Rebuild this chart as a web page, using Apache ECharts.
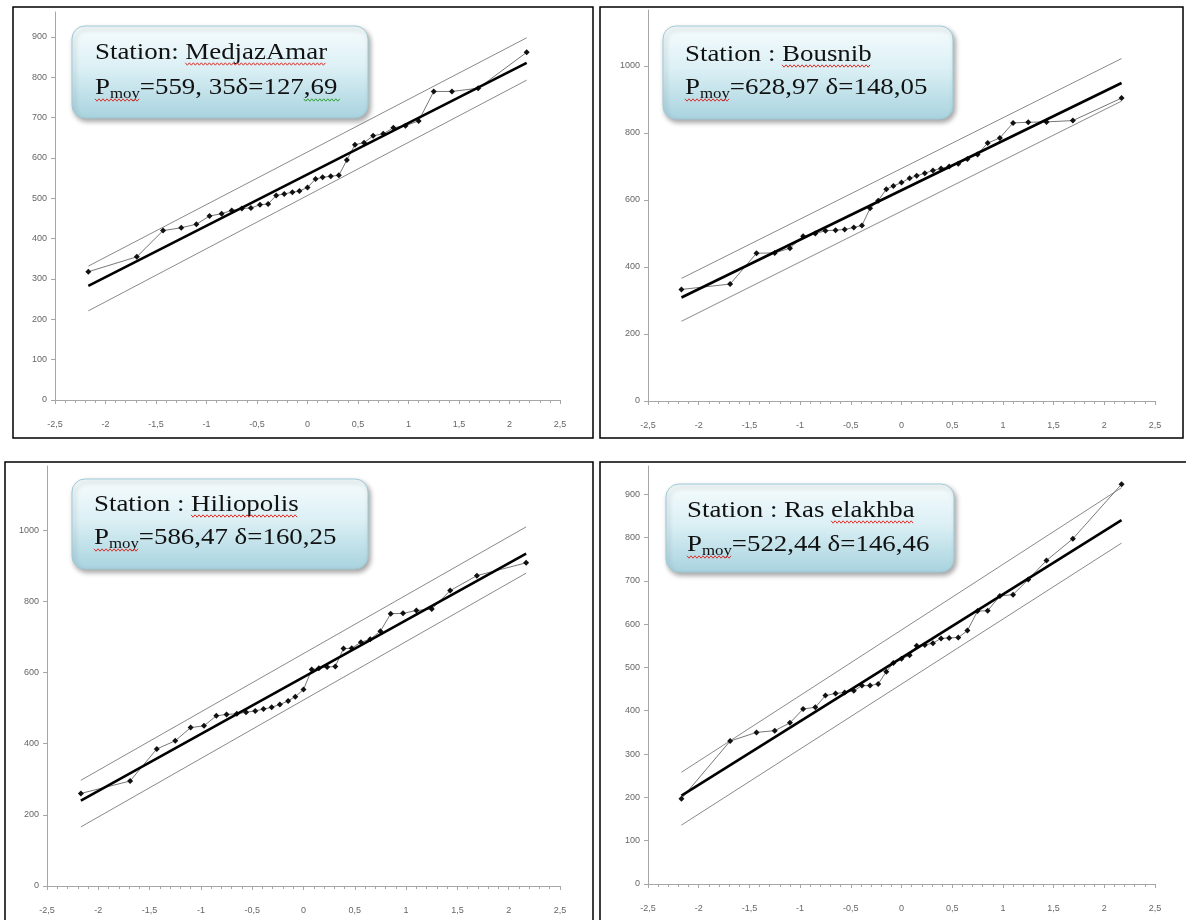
<!DOCTYPE html>
<html><head><meta charset="utf-8">
<script src="https://cdn.jsdelivr.net/npm/echarts@6/dist/echarts.min.js"></script>
<style>html,body{margin:0;padding:0;background:#fff}#c{width:1186px;height:920px}</style>
</head><body><div id="c"></div>
<script>
// ---- data ----
// normal quantiles (x positions of the 33 observed points)
const zValues = [-2.17,-1.69,-1.43,-1.25,-1.10,-0.97,-0.85,-0.75,-0.65,-0.56,-0.47,-0.39,-0.31,-0.23,-0.15,-0.08,0,0.08,0.15,0.23,0.31,0.39,0.47,0.56,0.65,0.75,0.85,0.97,1.10,1.25,1.43,1.69,2.17];
const lineEnds = [-2.17, 2.17];

const medjazValues = [318,355,420,427,436,456,462,470,475,476,484,486,507,511,515,518,527,548,552,555,557,595,633,638,655,660,675,680,692,765,765,773,862];
const bousnibValues = [333,349,441,442,456,492,500,508,510,512,518,524,575,598,632,642,652,665,672,680,688,694,700,708,722,736,770,785,830,832,833,837,904];
const hiliopolisValues = [260,295,385,408,445,450,478,482,484,488,492,497,502,510,520,532,552,608,612,615,617,667,668,685,693,716,765,766,774,778,830,872,908];
const rasValues = [197,330,350,354,372,404,408,435,440,442,446,458,458,462,490,510,520,528,550,552,556,567,568,569,585,630,631,665,668,703,747,797,923];

// fitted line and confidence lines, values at lineEnds
const medjazFit = [283, 836], medjazUpper = [332, 898], medjazLower = [221, 793];
const bousnibFit = [309, 949], bousnibUpper = [366, 1022], bousnibLower = [238, 895];
const hiliopolisFit = [240, 934], hiliopolisUpper = [297, 1009], hiliopolisLower = [166, 879];
const rasFit = [204, 840], rasUpper = [258, 915], rasLower = [136, 787];

const stationLine1 = ['Station: MedjazAmar', 'Station : Bousnib', 'Station : Hiliopolis', 'Station : Ras elakhba'];
const stationUnderlinePrefix = ['Station: ', 'Station : ', 'Station : ', 'Station : Ras '];
const stationLine2 = ['=559, 35\u03b4=127,69', '=628,97 \u03b4=148,05', '=586,47 \u03b4=160,25', '=522,44 \u03b4=146,46'];

const yMax = [962, 1167, 1180, 965];
const yInterval = [100, 200, 200, 100];

// ---- layout ----
const grids = [
  {left: 55, top: 12, width: 505, height: 388},
  {left: 648, top: 10, width: 507, height: 391},
  {left: 47, top: 466, width: 513, height: 420},
  {left: 648, top: 466, width: 507, height: 418}
];
const frames = [
  {x: 13, y: 7, w: 580, h: 431},
  {x: 600, y: 7, w: 583, h: 431},
  {x: 5, y: 462, w: 588, h: 470},
  {x: 600, y: 462, w: 600, h: 470}
];
const boxes = [
  {x: 72, y: 26, w: 296, h: 92, tx: 95, l1: 53, l2: 88},
  {x: 663, y: 26, w: 290, h: 93, tx: 685, l1: 55, l2: 88},
  {x: 72, y: 479, w: 296, h: 90, tx: 94, l1: 505, l2: 538},
  {x: 666, y: 484, w: 288, h: 88, tx: 687, l1: 511, l2: 545}
];

const panels = [
  {vals: medjazValues, fit: medjazFit, up: medjazUpper, lo: medjazLower},
  {vals: bousnibValues, fit: bousnibFit, up: bousnibUpper, lo: bousnibLower},
  {vals: hiliopolisValues, fit: hiliopolisFit, up: hiliopolisUpper, lo: hiliopolisLower},
  {vals: rasValues, fit: rasFit, up: rasUpper, lo: rasLower}
];

const AX = '#a6a6a6';
const xAxes = [], yAxes = [], series = [];
panels.forEach((p, i) => {
  xAxes.push({
    type: 'value', gridIndex: i, min: -2.5, max: 2.5, interval: 0.5,
    axisLine: {show: true, onZero: false, lineStyle: {color: AX, width: 1}},
    axisTick: {show: true, length: 4, lineStyle: {color: AX}},
    minorTick: {show: true, splitNumber: 5, length: 3, lineStyle: {color: AX}},
    splitLine: {show: false},
    axisLabel: {fontSize: 9, color: '#666', margin: 20, fontFamily: 'Liberation Sans',
      formatter: v => String(v).replace('.', ',')}
  });
  yAxes.push({
    type: 'value', gridIndex: i, min: 0, max: yMax[i], interval: yInterval[i],
    axisLine: {show: true, onZero: false, lineStyle: {color: AX, width: 1}},
    axisTick: {show: true, length: 4, lineStyle: {color: AX}},
    splitLine: {show: false},
    axisLabel: {fontSize: 9, color: '#666', margin: 8, fontFamily: 'Liberation Sans', showMaxLabel: false,
      formatter: v => (v % yInterval[i] === 0 ? String(v) : '')}
  });
  const seg = arr => lineEnds.map((z, k) => [z, arr[k]]);
  series.push({type: 'line', xAxisIndex: i, yAxisIndex: i, data: seg(p.up), symbol: 'none', silent: true,
    lineStyle: {color: '#8a8a8a', width: 1}, z: 2});
  series.push({type: 'line', xAxisIndex: i, yAxisIndex: i, data: seg(p.lo), symbol: 'none', silent: true,
    lineStyle: {color: '#8a8a8a', width: 1}, z: 2});
  series.push({type: 'line', xAxisIndex: i, yAxisIndex: i, data: zValues.map((z, k) => [z, p.vals[k]]),
    symbol: 'diamond', symbolSize: 6, itemStyle: {color: '#111'},
    lineStyle: {color: '#777', width: 1}, z: 3});
  series.push({type: 'line', xAxisIndex: i, yAxisIndex: i, data: seg(p.fit), symbol: 'none', silent: true,
    lineStyle: {color: '#000', width: 2.6}, z: 4});
});

// ---- text boxes ----
const ctx = document.createElement('canvas').getContext('2d');
const FONT = 'Liberation Serif';
function tw(s, size) { ctx.font = size + 'px "' + FONT + '"'; return ctx.measureText(s).width; }
const SX = 1.12, F1 = 24, FS = 15;
function wavy(x0, x1, y, color) {
  const pts = []; let k = 0;
  for (let x = x0; x <= x1; x += 2) { pts.push([x, y + (k % 2 ? 1.2 : -1.2)]); k++; }
  return {type: 'polyline', shape: {points: pts}, style: {stroke: color, lineWidth: 1, fill: null}, z: 120};
}

const graphics = [];
frames.forEach(f => graphics.push({type: 'rect', shape: {x: f.x, y: f.y, width: f.w, height: f.h},
  style: {fill: null, stroke: '#000', lineWidth: 1.5}, z: 50, silent: true}));

boxes.forEach((b, i) => {
  graphics.push({type: 'rect', shape: {x: b.x, y: b.y, width: b.w, height: b.h, r: 13}, z: 100,
    style: {
      fill: new echarts.graphic.LinearGradient(0, 0, 0, 1, [
        {offset: 0, color: '#f6fcfd'}, {offset: 0.45, color: '#dcf0f5'}, {offset: 1, color: '#a8d3df'}]),
      stroke: '#9fcad7', lineWidth: 1,
      shadowBlur: 5, shadowColor: 'rgba(0,0,0,0.35)', shadowOffsetX: 2, shadowOffsetY: 3
    }});
  graphics.push({type: 'text', x: b.tx, y: b.l1, scaleX: SX, z: 110,
    style: {text: stationLine1[i], font: F1 + 'px "' + FONT + '"', fill: '#111', verticalAlign: 'middle', align: 'left'}});
  const pW = tw('P', F1) * SX, moyW = tw('moy', FS) * SX;
  graphics.push({type: 'text', x: b.tx, y: b.l2, scaleX: SX, z: 110,
    style: {text: 'P', font: F1 + 'px "' + FONT + '"', fill: '#111', verticalAlign: 'middle', align: 'left'}});
  graphics.push({type: 'text', x: b.tx + pW, y: b.l2 + 6, scaleX: SX, z: 110,
    style: {text: 'moy', font: FS + 'px "' + FONT + '"', fill: '#111', verticalAlign: 'middle', align: 'left'}});
  graphics.push({type: 'text', x: b.tx + pW + moyW, y: b.l2, scaleX: SX, z: 110,
    style: {text: stationLine2[i], font: F1 + 'px "' + FONT + '"', fill: '#111', verticalAlign: 'middle', align: 'left'}});
  // spell-check underlines
  const ux0 = b.tx + tw(stationUnderlinePrefix[i], F1) * SX;
  const ux1 = b.tx + tw(stationLine1[i], F1) * SX;
  graphics.push(wavy(ux0, ux1, b.l1 + 11, '#e0302a'));
  graphics.push(wavy(b.tx, b.tx + pW + moyW, b.l2 + 12, '#e0302a'));
  if (i === 0) {
    const s = stationLine2[0];
    const startW = tw(s.slice(0, s.length - 3), F1) * SX;
    const endW = tw(s, F1) * SX;
    graphics.push(wavy(b.tx + pW + moyW + startW, b.tx + pW + moyW + endW + 4, b.l2 + 12, '#2f9a2f'));
  }
});

const chart = echarts.init(document.getElementById('c'), null, {renderer: 'canvas'});
chart.setOption({
  animation: false,
  backgroundColor: '#fff',
  grid: grids.map(g => Object.assign({containLabel: false}, g)),
  xAxis: xAxes,
  yAxis: yAxes,
  series: series,
  graphic: {elements: graphics}
});
</script></body></html>
